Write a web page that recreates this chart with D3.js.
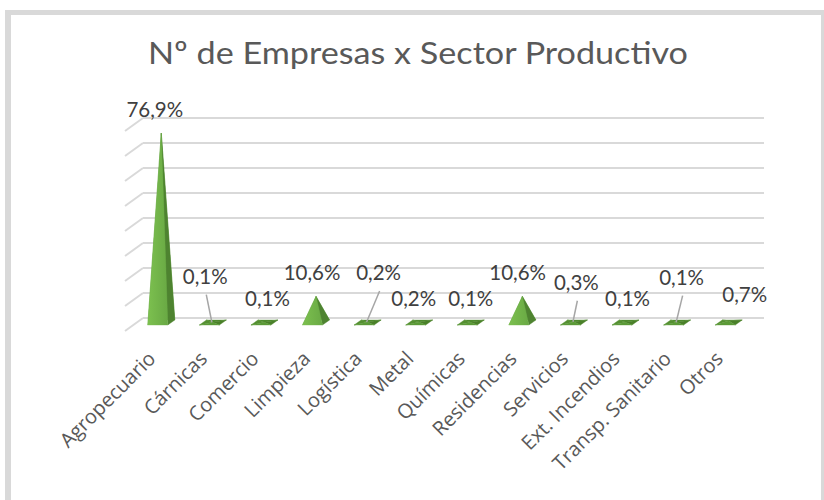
<!DOCTYPE html>
<html>
<head>
<meta charset="utf-8">
<script src="https://cdn.jsdelivr.net/npm/d3@7"></script>
<style>
  html, body { margin: 0; padding: 0; background: #ffffff; }
  svg { display: block; }
</style>
</head>
<body>
<svg id="chart" width="824" height="500"></svg>
<script>
// ---- data ----
const categories = ["Agropecuario", "Cárnicas", "Comercio", "Limpieza", "Logística", "Metal",
  "Químicas", "Residencias", "Servicios", "Ext. Incendios", "Transp. Sanitario", "Otros"];
const values = [76.9, 0.1, 0.1, 10.6, 0.2, 0.2, 0.1, 10.6, 0.3, 0.1, 0.1, 0.7];
const gridTicks = [0, 10, 20, 30, 40, 50, 60, 70, 80];
const titleText = "Nº de Empresas x Sector Productivo";

// ---- layout (label nudges, leader flags) ----
const labelNudge = [[-6.5, 0], [-7.6, -22.7], [3, 0], [-4, 0], [11, -26], [-5.5, 0],
  [0, 0], [-4.7, 0], [2.4, -16], [2, 0], [4.5, -21.7], [16, -3]];
const hasLeader = [false, true, false, false, true, false, false, false, true, false, true, false];

const svg = d3.select("#chart");
const fmt = v => d3.format(".1f")(v).replace(".", ",") + "%";

// frame
svg.append("rect").attr("x", 5).attr("y", 10).attr("width", 830).attr("height", 500).attr("fill", "#d9d9d9");
svg.append("rect").attr("x", 11).attr("y", 15).attr("width", 810).attr("height", 500).attr("fill", "#ffffff");

// title
svg.append("text")
  .attr("x", 418).attr("y", 64)
  .attr("text-anchor", "middle")
  .attr("font-family", "Lato, 'Open Sans', sans-serif")
  .attr("font-size", 31.5)
  .attr("textLength", 540)
  .attr("lengthAdjust", "spacingAndGlyphs")
  .attr("fill", "#595959")
  .text(titleText);

// scales
const depthX = 18, depthY = 13;
const x = d3.scaleBand().domain(categories).range([132, 751]);
const yWall = d3.scaleLinear().domain([0, 80]).range([318, 118]);   // back wall
const yMid = d3.scaleLinear().domain([0, 80]).range([322.5, 125.5]); // pyramid center depth
const backLeft = 143, backRight = 764;

// gridlines (back wall + side wall)
const grid = svg.append("g");
gridTicks.forEach(t => {
  const yy = yWall(t);
  grid.append("line").attr("x1", backLeft).attr("x2", backRight).attr("y1", yy).attr("y2", yy)
    .attr("stroke", "#d9d9d9").attr("stroke-width", 2);
  grid.append("line").attr("x1", backLeft - depthX).attr("y1", yy + depthY)
    .attr("x2", backLeft).attr("y2", yy)
    .attr("stroke", "#d9d9d9").attr("stroke-width", 2);
});

// gradients
const defs = svg.append("defs");
const gFront = defs.append("linearGradient").attr("id", "gFront").attr("x1", "0").attr("x2", "1").attr("y1", "0").attr("y2", "0");
gFront.append("stop").attr("offset", "0%").attr("stop-color", "#7cc04f");
gFront.append("stop").attr("offset", "100%").attr("stop-color", "#69a944");

// pyramids
const baseY = 325;
const pyr = svg.append("g");
categories.forEach((c, i) => {
  const cx = x(c) + x.bandwidth() / 2;
  const v = values[i];
  const fl = [cx - 10, baseY], fr = [cx + 10, baseY];
  const br = [cx + 17, baseY - 5], bl = [cx - 3, baseY - 5];
  const apex = [cx + 3.5, yMid(v)];
  const flat = (baseY - apex[1]) < 10;
  const faces = flat ? [
    [[bl, br, apex], "#4f8a2e"],
    [[fl, bl, apex], "#548f31"],
    [[fr, br, apex], "#4a8029"],
    [[fl, fr, apex], "#5b9a37"]
  ] : [
    [[bl, br, apex], "#5a9a3a"],
    [[fl, bl, apex], "#5a9a3a"],
    [[fr, br, apex], "#4e8330"],
    [[fl, fr, apex], "url(#gFront)"]
  ];
  faces.forEach(([pts, col]) => {
    pyr.append("path").attr("d", d3.line()(pts) + "Z").attr("fill", col).attr("stroke", col).attr("stroke-width", 0.4);
  });
});

// data labels and leaders
const lbl = svg.append("g");
categories.forEach((c, i) => {
  const cx = x(c) + x.bandwidth() / 2;
  const ax = cx + 3.5, ay = yMid(values[i]);
  const lx = ax + labelNudge[i][0];
  const ly = ay - 16 + labelNudge[i][1];
  if (hasLeader[i]) {
    lbl.append("line").attr("x1", lx + 1).attr("y1", ly + 11).attr("x2", ax - 1).attr("y2", ay)
      .attr("stroke", "#a6a6a6").attr("stroke-width", 1.5);
  }
  lbl.append("text").attr("x", lx).attr("y", ly)
    .attr("text-anchor", "middle")
    .attr("font-family", "Lato, 'Open Sans', sans-serif")
    .attr("font-size", 20.5)
    .attr("fill", "#404040")
    .text(fmt(values[i]));
});

// category axis labels
const ax = svg.append("g");
categories.forEach(c => {
  const cx = x(c) + x.bandwidth() / 2;
  ax.append("text")
    .attr("transform", `translate(${cx - 1},${360}) rotate(-45)`)
    .attr("text-anchor", "end")
    .attr("font-family", "'Open Sans', sans-serif")
    .attr("font-size", 20)
    .attr("fill", "#595959")
    .text(c);
});
</script>
</body>
</html>
